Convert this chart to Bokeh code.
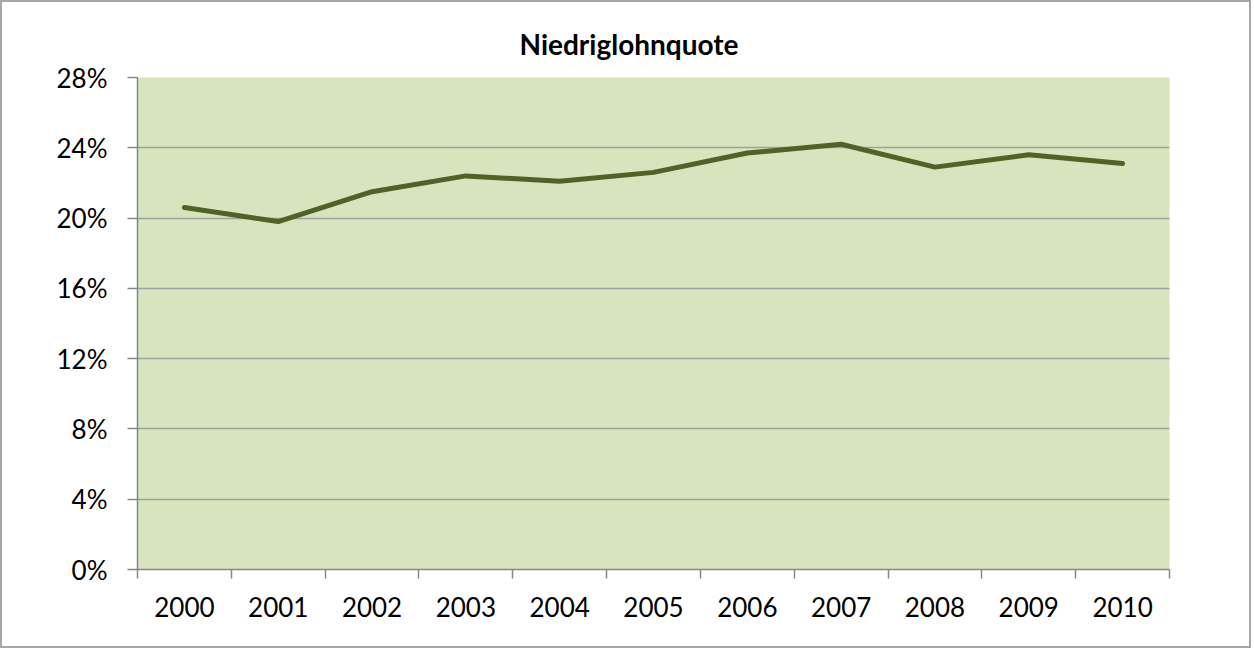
from bokeh.plotting import figure
from bokeh.models import FixedTicker, PrintfTickFormatter, Range1d
from bokeh.embed import file_html
from bokeh.resources import INLINE

years = ["2000", "2001", "2002", "2003", "2004", "2005", "2006", "2007", "2008", "2009", "2010"]
quote = [20.6, 19.8, 21.5, 22.4, 22.1, 22.6, 23.7, 24.2, 22.9, 23.6, 23.1]
y_ticks = [0, 4, 8, 12, 16, 20, 24, 28]

xs = list(range(len(years)))

p = figure(frame_width=1032, frame_height=492, output_backend="svg", toolbar_location=None,
           x_range=Range1d(-0.5, len(years) - 0.5), y_range=Range1d(0, 28),
           min_border_left=135, min_border_right=80, min_border_top=75, min_border_bottom=77,
           title="Niedriglohnquote")
p.styles = {"border": "2px solid #a6a6a6"}
p.background_fill_color = "#d7e4bd"
p.border_fill_color = "white"
p.outline_line_color = None

p.title.text_font = "Lato"
p.title.text_font_style = "bold"
p.title.text_font_size = "28px"
p.title.align = "left"
p.title.offset = 382
p.title.standoff = 34
p.title.text_color = "#000000"

p.line(xs, quote, line_color="#4f6228", line_width=5, line_join="round", line_cap="round")

# x axis
xa = p.xaxis[0]
xa.ticker = FixedTicker(ticks=xs, minor_ticks=[i - 0.5 for i in range(len(years) + 1)])
xa.major_label_overrides = {i: y for i, y in enumerate(years)}
xa.major_tick_line_color = None
xa.major_tick_out = 0
xa.minor_tick_out = 9
xa.minor_tick_in = 0
xa.minor_tick_line_color = "#868686"
xa.minor_tick_line_width = 1.5
xa.axis_line_color = "#868686"
xa.axis_line_width = 1.5
xa.major_label_text_font = "Lato"
xa.major_label_text_font_size = "26px"
xa.major_label_text_color = "#000000"
xa.major_label_standoff = 18

ya = p.yaxis[0]
ya.ticker = FixedTicker(ticks=y_ticks, minor_ticks=[])
ya.formatter = PrintfTickFormatter(format="%d%%")
ya.major_tick_out = 10
ya.major_tick_in = 0
ya.major_tick_line_color = "#868686"
ya.major_tick_line_width = 1.5
ya.minor_tick_line_color = None
ya.axis_line_color = "#868686"
ya.axis_line_width = 1.5
ya.major_label_text_font = "Lato"
ya.major_label_text_font_size = "26px"
ya.major_label_text_color = "#000000"
ya.major_label_standoff = 20

p.xgrid.grid_line_color = None
p.ygrid.ticker = FixedTicker(ticks=y_ticks[1:-1])
p.ygrid.grid_line_color = "#a0a0a0"
p.ygrid.grid_line_width = 1.5

open("out.html", "w").write(file_html(p, INLINE))
